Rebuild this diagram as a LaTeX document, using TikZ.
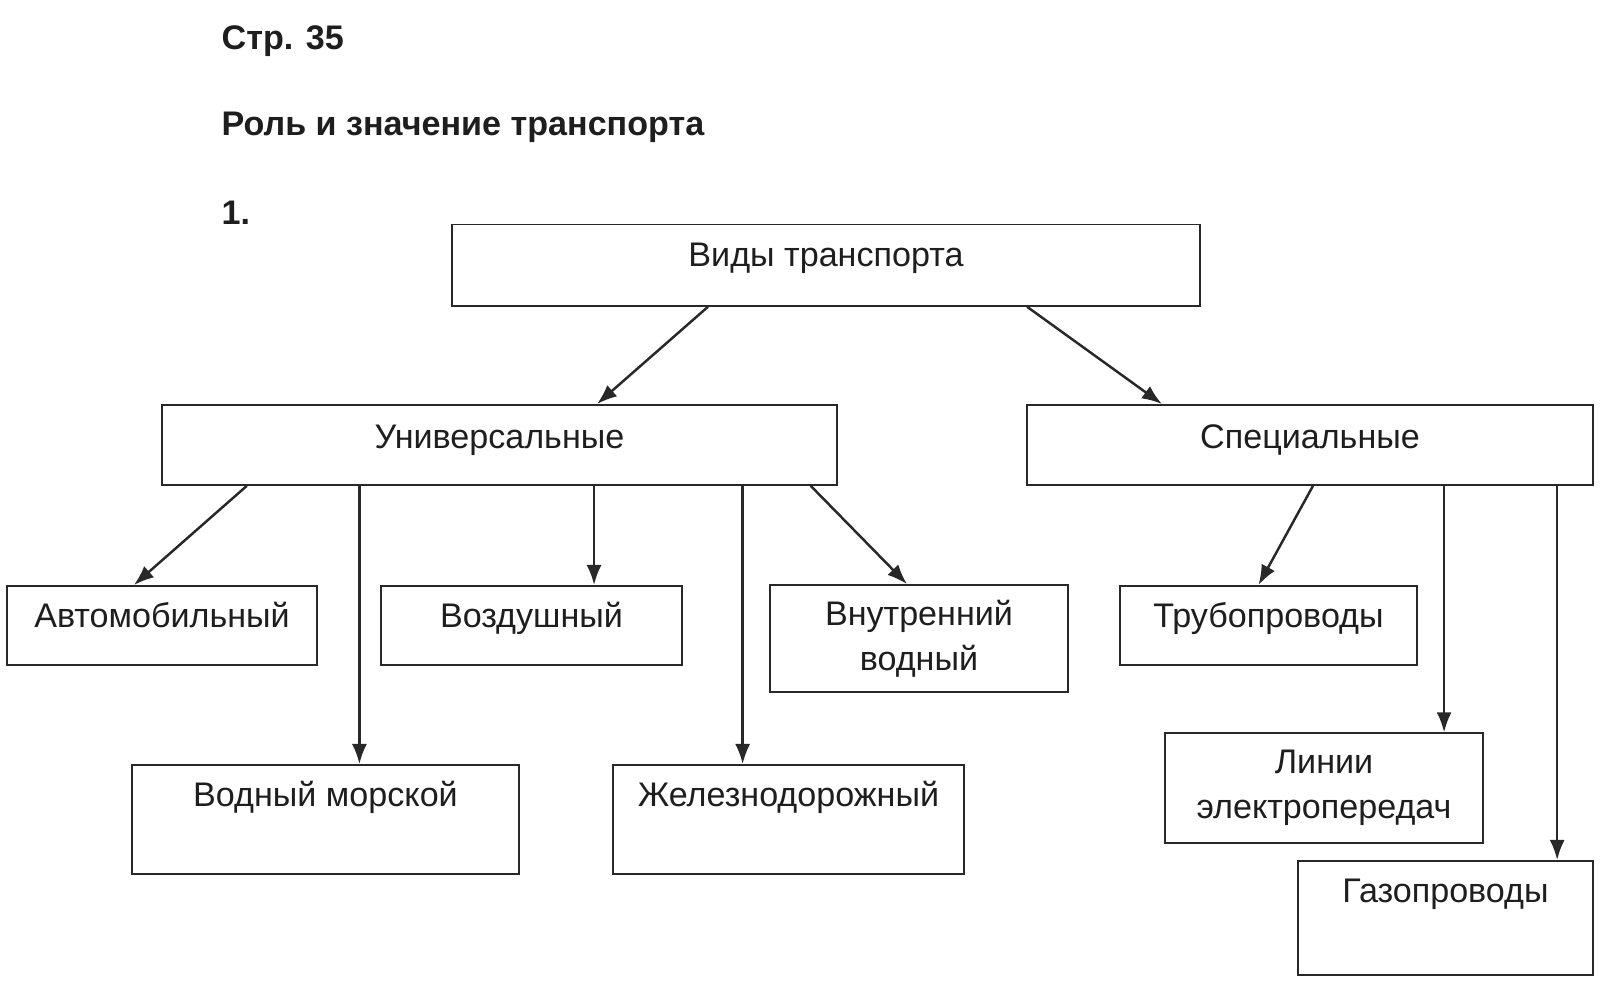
\documentclass[tikz,border=0pt]{standalone}
\usepackage{fontspec}
\setmainfont{Liberation Sans}
\usetikzlibrary{arrows.meta}
\definecolor{lineColor}{RGB}{40,40,40}
\definecolor{textColor}{RGB}{30,30,30}
\tikzset{box/.style={draw=lineColor, text=textColor, line width=.5pt, inner ysep=0pt, text height=.42cm, anchor=north, font=\fontsize{9.7pt}{12.8pt}\selectfont}}
\tikzset{twoline/.style={box, text height=, align=center, anchor=center}}
\tikzset{heading/.style={anchor=base west, inner sep=0pt, text=textColor, font=\bfseries\fontsize{9.7pt}{12.8pt}\selectfont}}

\begin{document}
\begin{tikzpicture}[x=.01cm, y=-.01cm]
	\useasboundingbox (0,0) rectangle (1615,1000);
	% Nodes
		\node (page) [heading] at (221,49) {Стр. 35};
		\node (title) [heading] at (221,135) {Роль и значение транспорта};
		\node (num) [heading] at (221,224) {1.};

		\node (vidy) [box, minimum width=7.48cm, text depth=.395cm] at (826,223.5) {Виды транспорта};

		\node (univ) [box, minimum width=6.75cm, text height=.44cm, text depth=.36cm] at (499.5,404) {Универсальные};
		\node (spec) [box, minimum width=5.66cm, text height=.44cm, text depth=.36cm] at (1310,404) {Специальные};

		\node (avto) [box, minimum width=3.10cm, text depth=.37cm] at (162,585) {Автомобильный};
		\node (vozd) [box, minimum width=3.01cm, text depth=.37cm] at (531.5,585) {Воздушный};
		\node (vnutr) [twoline, minimum width=2.98cm, minimum height=1.07cm] at (919,638.5) {Внутренний\\ водный};
		\node (trub) [box, minimum width=2.97cm, text depth=.37cm] at (1268.5,585) {Трубопроводы};

		\node (morsk) [box, minimum width=3.87cm, text depth=.67cm] at (325.5,764) {Водный морской};
		\node (zhel) [box, minimum width=3.51cm, text depth=.67cm] at (788.5,764) {Железнодорожный};
		\node (linii) [twoline, minimum width=3.18cm, minimum height=1.095cm] at (1324,788) {Линии\\ электропередач};
		\node (gaz) [box, minimum width=2.95cm, text depth=.72cm] at (1445.5,860) {Газопроводы};

		% Connectors
		\begin{scope}[draw=lineColor, line width=.7pt, -{Latex[length=2mm, width=1.5mm]}]

		\draw ([xshift=-1.18cm]vidy.south) -- ([xshift=.975cm]univ.north);
		\draw ([xshift=2.01cm]vidy.south) -- ([xshift=-1.48cm]spec.north);

		\draw ([xshift=-2.525cm]univ.south) -- ([xshift=-.28cm]avto.north);
		\draw ([xshift=-1.40cm]univ.south) -- ([xshift=-1.40cm]univ.south |- morsk.north);
		\draw ([xshift=.945cm]univ.south) -- ([xshift=.945cm]univ.south |- vozd.north);
		\draw ([xshift=2.43cm]univ.south) -- ([xshift=2.43cm]univ.south |- zhel.north);
		\draw ([xshift=3.11cm]univ.south) -- ([xshift=-.12cm]vnutr.north);

		\draw ([xshift=.03cm]spec.south) -- ([xshift=-.10cm]trub.north);
		\draw ([xshift=1.34cm]spec.south) -- ([xshift=1.34cm]spec.south |- linii.north);
		\draw ([xshift=2.47cm]spec.south) -- ([xshift=2.47cm]spec.south |- gaz.north);

		\end{scope}

\end{tikzpicture}
\end{document}
